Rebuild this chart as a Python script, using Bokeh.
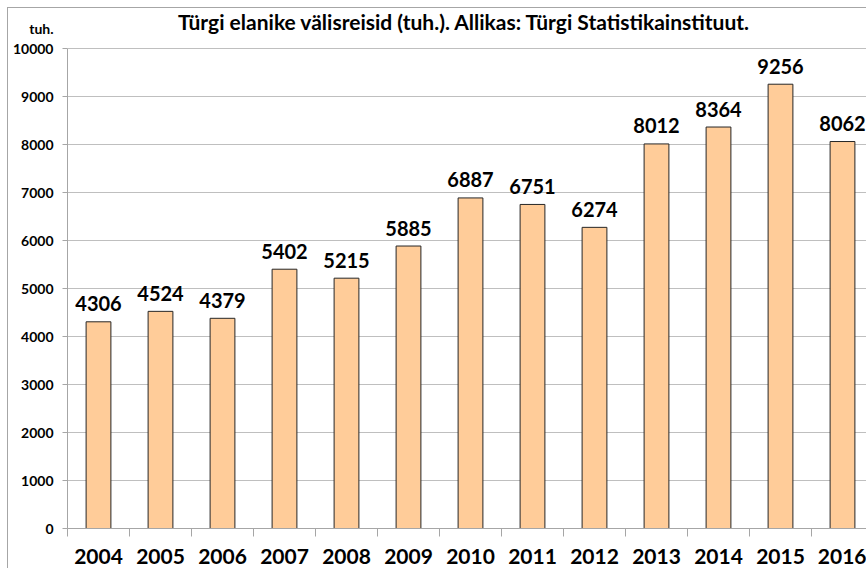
from bokeh.plotting import figure
from bokeh.models import Range1d, FixedTicker, LinearAxis, ColumnDataSource
from bokeh.core.properties import value
from bokeh.embed import file_html
from bokeh.resources import INLINE

years = [2004, 2005, 2006, 2007, 2008, 2009, 2010, 2011, 2012, 2013, 2014, 2015, 2016]
trips = [4306, 4524, 4379, 5402, 5215, 5885, 6887, 6751, 6274, 8012, 8364, 9256, 8062]
y_ticks = [0, 1000, 2000, 3000, 4000, 5000, 6000, 7000, 8000, 9000, 10000]
title_text = "Türgi elanike välisreisid (tuh.). Allikas: Türgi Statistikainstituut."
unit_text = "tuh."

FONT = "Lato"
W, H = 859, 561
LEFT, BOTTOM = 59, 41
frame_w = W - LEFT
frame_h = H - BOTTOM
cat_px = 62.0
px_per_unit = 480 / 10000.0          # 10000 maps to 480 px
y_top = frame_h / px_per_unit         # range end so that the frame reaches the top
x_start = years[0] - 0.5
x_end = x_start + frame_w / cat_px

p = figure(width=W, height=H, output_backend="svg", toolbar_location=None, title=None,
           x_range=Range1d(x_start, x_end), y_range=Range1d(0, y_top),
           min_border_left=LEFT, min_border_right=0, min_border_top=0,
           min_border_bottom=BOTTOM)
p.styles = {"margin-left": "7px", "margin-top": "7px",
            "border-left": "1px solid #A6A6A6", "border-top": "1px solid #A6A6A6"}
p.outline_line_color = None
p.background_fill_color = "white"
p.border_fill_color = "white"

src = ColumnDataSource(dict(x=years, top=trips, lbl=[str(v) for v in trips]))
p.vbar(x="x", top="top", width=0.4, bottom=0, source=src,
       fill_color="#FFCC99", line_color="#262626", line_width=1)
p.text(x="x", y="top", text="lbl", source=src, text_align="center",
       text_baseline="alphabetic", y_offset=-18, text_font=value(FONT),
       text_font_style="bold", text_font_size="20px", text_color="black")

# title inside the (top-extended) frame
title_y = 10000 + 27 / px_per_unit
p.text(x=[(x_start + x_end) / 2 - 0.05], y=[title_y], text=[title_text],
       text_align="center", text_baseline="alphabetic", text_font=value(FONT),
       text_font_style="bold", text_font_size="21px", text_color="black")

# x axis
xa = p.xaxis[0]
xa.ticker = FixedTicker(ticks=years, minor_ticks=[y - 0.5 for y in years] + [years[-1] + 0.5])
xa.major_tick_out = 0
xa.major_tick_in = 0
xa.minor_tick_out = 8
xa.minor_tick_in = 0
xa.minor_tick_line_color = "#A6A6A6"
xa.axis_line_color = "#A6A6A6"
xa.major_label_text_font = FONT
xa.major_label_text_font_style = "bold"
xa.major_label_text_font_size = "21px"
xa.major_label_text_color = "black"
xa.major_label_standoff = 12

# y axis line + ticks (limited to 0..10000)
ya = p.yaxis[0]
ya.ticker = FixedTicker(ticks=y_ticks)
ya.bounds = (0, 10000)
ya.major_tick_out = 5
ya.major_tick_in = 0
ya.minor_tick_line_color = None
ya.major_tick_line_color = "#A6A6A6"
ya.axis_line_color = "#A6A6A6"
ya.major_label_overrides = {t: "" for t in y_ticks}
ya.major_label_standoff = 0

# y labels (and the unit) on an outer axis
tuh_y = 10000 + 20 / px_per_unit
lab = LinearAxis(ticker=FixedTicker(ticks=y_ticks + [tuh_y]),
                 major_label_overrides={tuh_y: unit_text},
                 axis_line_color=None, major_tick_line_color=None,
                 minor_tick_line_color=None, major_tick_out=0, major_tick_in=0,
                 major_label_standoff=9, major_label_text_font=FONT,
                 major_label_text_font_style="bold", major_label_text_font_size="14px",
                 major_label_text_color="black")
p.add_layout(lab, "left")

p.xgrid.grid_line_color = None
p.ygrid.ticker = FixedTicker(ticks=y_ticks)
p.ygrid.grid_line_color = "#BFBFBF"
p.ygrid.grid_line_width = 1

open("out.html", "w").write(file_html(p, INLINE))
